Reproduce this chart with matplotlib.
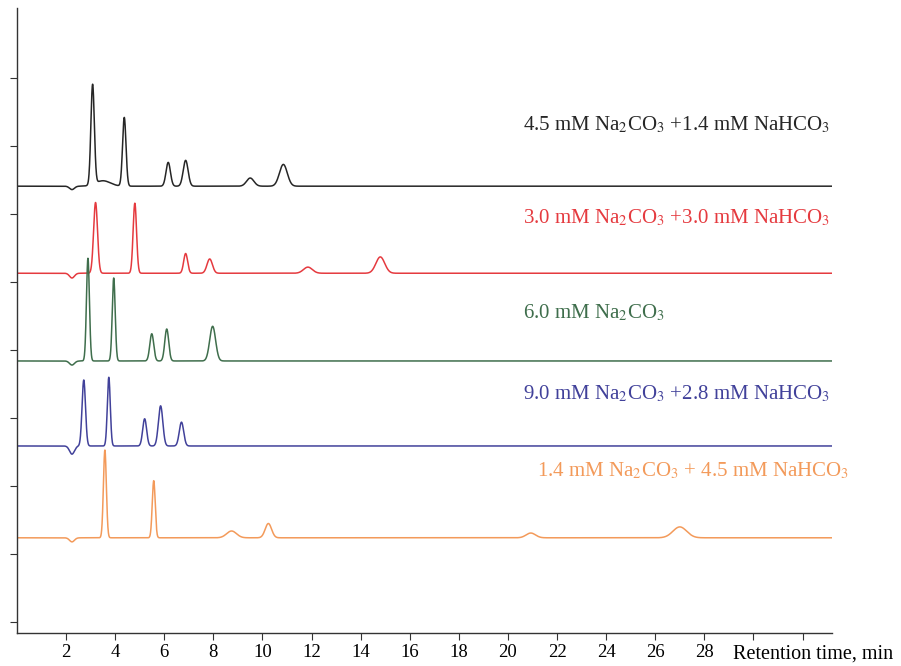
import matplotlib.pyplot as plt
import numpy as np

plt.rcParams['font.family'] = ['Liberation Serif', 'DejaVu Serif']
plt.rcParams['mathtext.fontset'] = 'stix'

# Eluent compositions (top to bottom)
labels = [
    "4.5 mM Na$_2$CO$_3$ +1.4 mM NaHCO$_3$",
    "3.0 mM Na$_2$CO$_3$ +3.0 mM NaHCO$_3$",
    "6.0 mM Na$_2$CO$_3$",
    "9.0 mM Na$_2$CO$_3$ +2.8 mM NaHCO$_3$",
    "1.4 mM Na$_2$CO$_3$ + 4.5 mM NaHCO$_3$",
]
colors = ["#262626", "#e53a3f", "#3f6e4c", "#41419a", "#f39a5a"]
offsets = [6.41, 5.13, 3.84, 2.59, 1.24]

# Peaks: retention time (min), height, width (sigma, min); negative = system dip
rt_black = [2.24, 3.08, 3.5, 4.37, 6.16, 6.87, 9.5, 10.85]
h_black = [-0.05, 1.47, 0.08, 1.01, 0.35, 0.38, 0.12, 0.32]
w_black = [0.1, 0.07, 0.3, 0.07, 0.09, 0.1, 0.15, 0.16]

rt_red = [2.24, 3.2, 4.8, 6.87, 7.85, 11.85, 14.8]
h_red = [-0.07, 1.04, 1.03, 0.29, 0.21, 0.09, 0.24]
w_red = [0.1, 0.08, 0.07, 0.08, 0.11, 0.18, 0.18]

rt_green = [2.24, 2.89, 3.94, 5.49, 6.1, 7.97]
h_green = [-0.06, 1.51, 1.22, 0.40, 0.47, 0.51]
w_green = [0.1, 0.06, 0.06, 0.08, 0.08, 0.12]

rt_blue = [2.24, 2.72, 3.74, 5.2, 5.85, 6.7]
h_blue = [-0.12, 0.97, 1.01, 0.40, 0.59, 0.35]
w_blue = [0.1, 0.07, 0.06, 0.08, 0.09, 0.09]

rt_orange = [2.24, 3.58, 5.57, 8.74, 10.24, 20.93, 27.0]
h_orange = [-0.06, 1.29, 0.84, 0.10, 0.21, 0.07, 0.16]
w_orange = [0.1, 0.06, 0.06, 0.2, 0.13, 0.19, 0.28]

peaks = [
    (rt_black, h_black, w_black),
    (rt_red, h_red, w_red),
    (rt_green, h_green, w_green),
    (rt_blue, h_blue, w_blue),
    (rt_orange, h_orange, w_orange),
]
label_x = [20.6, 20.6, 20.6, 20.6, 21.2]
label_y = [7.31, 5.95, 4.55, 3.35, 2.22]

t = np.linspace(0.0, 33.2, 6000)

fig = plt.figure(figsize=(9.01, 6.66), dpi=100)
ax = fig.add_axes([17 / 901, 33 / 666, 815 / 901, 625 / 666])

for (rts, hs, ws), base, col, lab, lx, ly in zip(peaks, offsets, colors, labels, label_x, label_y):
    sig = np.zeros_like(t)
    for rt, h, w in zip(rts, hs, ws):
        sig += h * np.exp(-0.5 * ((t - rt) / w) ** 2)
    ax.plot(t, base + sig, color=col, lw=1.1)
    ax.text(lx, ly, lab, color=col, fontsize=15, va='center', ha='left', clip_on=False)

ax.set_xlim(0, 33.2)
ax.set_ylim(-0.16, 9.03)
ax.set_xticks(np.arange(2, 33, 2))
ax.set_xticklabels([str(v) for v in range(2, 29, 2)] + ["", ""])
ax.set_yticks(np.arange(0, 9, 1))
ax.set_yticklabels([])
ax.tick_params(axis='x', direction='out', length=5, width=0.8, labelsize=13.5, pad=3, color='#333333')
ax.tick_params(axis='y', direction='out', length=5, width=0.8, color='#333333')
for s in ['top', 'right']:
    ax.spines[s].set_visible(False)
for s in ['left', 'bottom']:
    ax.spines[s].set_color('#333333')
    ax.spines[s].set_linewidth(1.0)

# axis title sits in line with the tick labels
ax.text(29.17, -0.018, "Retention time, min", fontsize=14.5, va='top', ha='left',
        transform=ax.get_xaxis_transform(), clip_on=False)

fig.savefig("out.png", dpi=100)
